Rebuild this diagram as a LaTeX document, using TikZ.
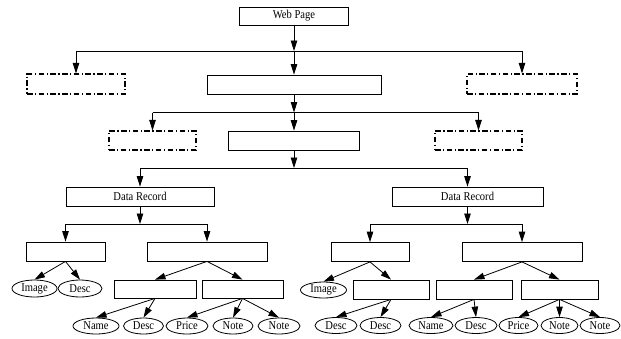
\documentclass[tikz,border=0pt]{standalone}
\usepackage{fontspec}
\setmainfont[FakeStretch=0.88]{Liberation Serif}
\usetikzlibrary{arrows.meta,shapes.geometric}

\begin{document}
\begin{tikzpicture}[x=1pt,y=-1pt,
    every node/.style={font=\fontsize{12}{13}\selectfont, inner sep=0pt},
    rbox/.style={draw, line width=0.8pt, rectangle, minimum height=19},
    dbox/.style={rbox, line width=1.1pt, dash pattern=on 5.5pt off 2.5pt on 1.2pt off 2.5pt},
    oval/.style={draw, line width=0.8pt, ellipse, minimum height=16},
    arr/.style={-{Triangle[length=10.5pt,width=6.5pt]}, line width=0.8pt},
    ln/.style={line width=0.8pt}]
  \useasboundingbox (0,0) rectangle (621,338);

  % upper levels
  \node[rbox,minimum width=109,minimum height=18] (web) at (294,16) {Web Page};
  \node[dbox,minimum width=98,minimum height=20] (dl1) at (76,84) {};
  \node[rbox,minimum width=174] (m1) at (294,84.5) {};
  \node[dbox,minimum width=110,minimum height=20] (dr1) at (522,84) {};
  \node[dbox,minimum width=87] (dl2) at (152.5,140.5) {};
  \node[rbox,minimum width=131] (m2) at (294,140.5) {};
  \node[dbox,minimum width=87] (dr2) at (478.5,140.5) {};
  \node[rbox,minimum width=148] (recL) at (140,196.5) {Data Record};
  \node[rbox,minimum width=151] (recR) at (467.5,196.5) {Data Record};

  \coordinate (j1) at (294,51);
  \coordinate (j2) at (294,112.5);
  \coordinate (j3) at (294,168);
  \coordinate (j4) at (140,224);
  \coordinate (j5) at (467.5,224);

  \draw[arr] (web) -- (j1);
  \draw[ln] (j1 -| dl1) -- (j1 -| dr1);
  \draw[arr] (j1 -| dl1) -- (dl1);
  \draw[arr] (j1) -- (m1);
  \draw[arr] (j1 -| dr1) -- (dr1);

  \draw[arr] (m1) -- (j2);
  \draw[ln] (j2 -| dl2) -- (j2 -| dr2);
  \draw[arr] (j2 -| dl2) -- (dl2);
  \draw[arr] (j2) -- (m2);
  \draw[arr] (j2 -| dr2) -- (dr2);

  \draw[arr] (m2) -- (j3);
  \draw[ln] (j3 -| recL) -- (j3 -| recR);
  \draw[arr] (j3 -| recL) -- (recL);
  \draw[arr] (j3 -| recR) -- (recR);

  % left record
  \node[rbox,minimum width=79] (aL) at (65.5,251.5) {};
  \node[rbox,minimum width=120] (bL) at (207,251.5) {};
  \draw[arr] (recL) -- (j4);
  \draw[ln] (j4 -| aL) -- (j4 -| bL);
  \draw[arr] (j4 -| aL) -- (aL);
  \draw[arr] (j4 -| bL) -- (bL);

  \node[oval,minimum width=45,minimum height=17] (imgL) at (34.5,288.5) {Image};
  \node[oval,minimum width=44,minimum height=17] (dscL) at (80,288.5) {Desc};
  \node[rbox,minimum width=82,minimum height=18] (b1L) at (155,289) {};
  \node[rbox,minimum width=81,minimum height=18] (b2L) at (242.5,289) {};
  \foreach \c in {imgL,dscL} \draw[arr] (aL.south) -- (\c.north);
  \foreach \c in {b1L,b2L} \draw[arr] (bL.south) -- (\c.north);

  \node[oval,minimum width=46] (nmL) at (96,326) {Name};
  \node[oval,minimum width=40] (dsL) at (143.5,326) {Desc};
  \node[oval,minimum width=42] (prL) at (187,326) {Price};
  \node[oval,minimum width=40] (ntL) at (233,326) {Note};
  \node[oval,minimum width=42] (nnL) at (279,326) {Note};
  \foreach \c in {nmL,dsL} \draw[arr] (b1L.south) -- (\c.north);
  \foreach \c in {prL,ntL,nnL} \draw[arr] (b2L.south) -- (\c.north);

  % right record
  \node[rbox,minimum width=78] (aR) at (370,252) {};
  \node[rbox,minimum width=120] (bR) at (522,252) {};
  \draw[arr] (recR) -- (j5);
  \draw[ln] (j5 -| aR) -- (j5 -| bR);
  \draw[arr] (j5 -| aR) -- (aR);
  \draw[arr] (j5 -| bR) -- (bR);

  \node[oval,minimum width=46] (imgR) at (323.5,290) {Image};
  \node[rbox,minimum width=76] (a1R) at (391,289.5) {};
  \node[rbox,minimum width=76] (b1R) at (474,289.5) {};
  \node[rbox,minimum width=77] (b2R) at (559.5,289.5) {};
  \foreach \c in {imgR,a1R} \draw[arr] (aR.south) -- (\c.north);
  \foreach \c in {b1R,b2R} \draw[arr] (bR.south) -- (\c.north);

  \node[oval,minimum width=42] (d1R) at (336,325.5) {Desc};
  \node[oval,minimum width=41] (d2R) at (380.5,325.5) {Desc};
  \node[oval,minimum width=44] (nmR) at (431,325.5) {Name};
  \node[oval,minimum width=42] (dsR) at (476,325.5) {Desc};
  \node[oval,minimum width=39] (prR) at (518.5,325.5) {Price};
  \node[oval,minimum width=37] (ntR) at (559.5,325.5) {Note};
  \node[oval,minimum width=40] (nnR) at (600,325.5) {Note};
  \foreach \c in {d1R,d2R} \draw[arr] (a1R.south) -- (\c.north);
  \foreach \c in {nmR,dsR} \draw[arr] (b1R.south) -- (\c.north);
  \foreach \c in {prR,ntR,nnR} \draw[arr] (b2R.south) -- (\c.north);
\end{tikzpicture}
\end{document}
